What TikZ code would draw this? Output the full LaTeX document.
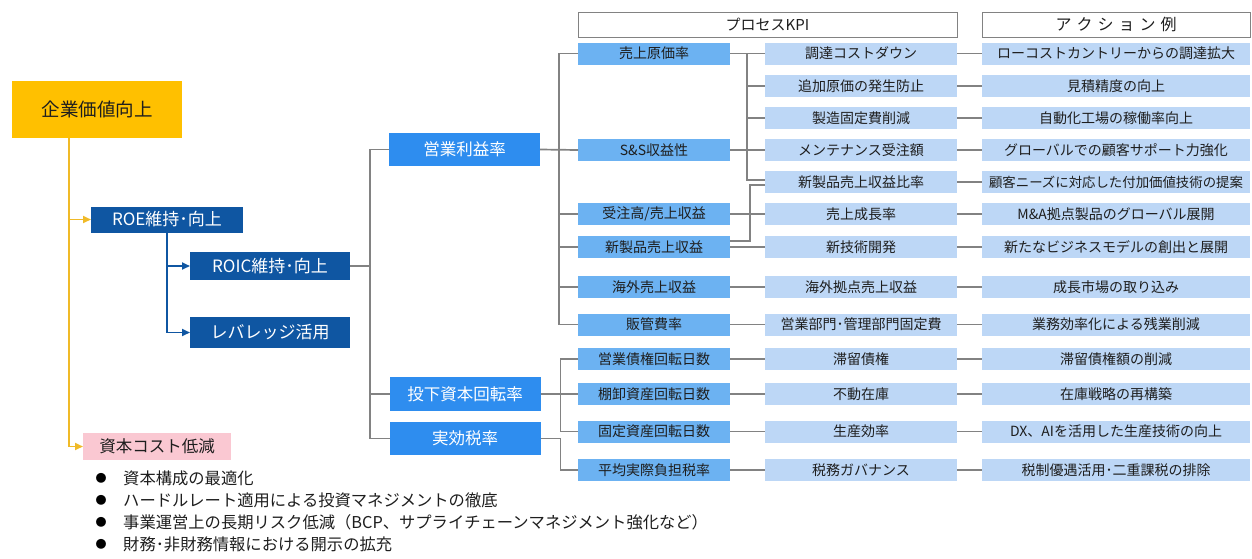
\documentclass[tikz,border=0pt]{standalone}
\usepackage{fontspec}
\setmainfont{Noto Sans CJK JP}
\usetikzlibrary{arrows.meta,calc}
\definecolor{orangeC}{RGB}{255,192,0}
\definecolor{navyC}{RGB}{15,86,162}
\definecolor{brightC}{RGB}{46,141,239}
\definecolor{midC}{RGB}{108,178,242}
\definecolor{lightC}{RGB}{189,215,246}
\definecolor{pinkC}{RGB}{250,200,210}
\definecolor{yelC}{RGB}{240,186,40}
\definecolor{grayC}{RGB}{130,130,130}
\definecolor{txtC}{RGB}{30,30,30}
\newcommand{\myfs}[1]{\fontsize{#1}{#1}\selectfont}
\newcommand{\hsp}{\hspace{5pt}}
\tikzset{
  bx/.style={inner sep=0pt, outer sep=0pt, align=center},
  topbox/.style={bx, fill=orangeC, text=txtC, minimum width=170pt, minimum height=57pt, font=\myfs{18.5}},
  navybox/.style={bx, fill=navyC, text=white, font=\myfs{17}},
  pinkbox/.style={bx, fill=pinkC, text=txtC, minimum width=148pt, minimum height=27pt, font=\myfs{16.5}},
  opbox/.style={bx, fill=brightC, text=white, minimum width=151pt, minimum height=33pt, font=\myfs{16.5}},
  ctwo/.style={bx, fill=midC, text=txtC, minimum width=152pt, minimum height=22pt, font=\myfs{14}},
  cthree/.style={bx, fill=lightC, text=txtC, minimum width=192pt, minimum height=22pt, font=\myfs{14}},
  cfour/.style={bx, fill=lightC, text=txtC, minimum width=268pt, minimum height=22pt, font=\myfs{14}},
  hdbox/.style={bx, draw=grayC, line width=1pt, fill=white, minimum height=25pt, font=\myfs{15}, text=txtC},
  gl/.style={draw=grayC, line width=1.7pt},
  yl/.style={draw=yelC, line width=1.7pt},
  bl/.style={draw=navyC, line width=1.7pt},
  tip/.style={-{Triangle[length=8pt,width=7pt]}},
  bulletsym/.style={inner sep=0pt, font=\myfs{11}, text=black},
  bullettxt/.style={inner sep=0pt, anchor=west, font=\myfs{16.3}, text=txtC}
}
\begin{document}
\begin{tikzpicture}[x=1pt,y=-1pt]
\useasboundingbox (0,0) rectangle (1252,558);

% headers
\node[hdbox, minimum width=379pt] (h1) at (767.5,24.5) {プロセスKPI};
\node[hdbox, minimum width=268pt, font=\myfs{16}] (h2) at (1116,24.5) {ア\hsp ク\hsp シ\hsp ョ\hsp ン\hsp 例};

% left tree
\node[topbox] (org) at (97,109.5) {企業価値向上};
\node[navybox, minimum width=152pt, minimum height=26pt] (roe) at (167,219.5) {ROE維持･向上};
\node[navybox, minimum width=160pt, minimum height=28pt] (roic) at (270,266) {ROIC維持･向上};
\node[navybox, minimum width=160pt, minimum height=31pt] (lev) at (270,332.5) {レバレッジ活用};
\node[pinkbox] (pink) at (157,446.5) {資本コスト低減};

% level 1
\node[opbox] (op) at (464.5,149.5) {営業利益率};
\node[opbox, minimum height=34pt] (inv) at (465,394) {投下資本回転率};
\node[opbox] (tax) at (465,438.5) {実効税率};

% column 2
\node[ctwo] (c21) at (654,53.5) {売上原価率};
\node[ctwo] (c22) at (654,150) {S\&S収益性};
\node[ctwo] (c23) at (654,214) {受注高/売上収益};
\node[ctwo] (c24) at (654,247) {新製品売上収益};
\node[ctwo] (c25) at (654,287) {海外売上収益};
\node[ctwo] (c26) at (654,324.5) {販管費率};
\node[ctwo] (c27) at (654,359) {営業債権回転日数};
\node[ctwo] (c28) at (654,394) {棚卸資産回転日数};
\node[ctwo] (c29) at (654,431.5) {固定資産回転日数};
\node[ctwo] (c210) at (654,470) {平均実際負担税率};

% column 3
\node[cthree] (k1) at (861,53.5) {調達コストダウン};
\node[cthree] (k2) at (861,86) {追加原価の発生防止};
\node[cthree] (k3) at (861,118) {製造固定費削減};
\node[cthree] (k4) at (861,150) {メンテナンス受注額};
\node[cthree] (k5) at (861,182) {新製品売上収益比率};
\node[cthree] (k6) at (861,214) {売上成長率};
\node[cthree] (k7) at (861,247) {新技術開発};
\node[cthree] (k8) at (861,287) {海外拠点売上収益};
\node[cthree] (k9) at (861,324.5) {営業部門･管理部門固定費};
\node[cthree] (k10) at (861,359) {滞留債権};
\node[cthree] (k11) at (861,394) {不動在庫};
\node[cthree] (k12) at (861,431.5) {生産効率};
\node[cthree] (k13) at (861,470) {税務ガバナンス};

% column 4
\node[cfour] (a1) at (1116,53.5) {ローコストカントリーからの調達拡大};
\node[cfour] (a2) at (1116,86) {見積精度の向上};
\node[cfour] (a3) at (1116,118) {自動化工場の稼働率向上};
\node[cfour] (a4) at (1116,150) {グローバルでの顧客サポート力強化};
\node[cfour, font=\myfs{13.4}] (a5) at (1116,182) {顧客ニーズに対応した付加価値技術の提案};
\node[cfour] (a6) at (1116,214) {M\&A拠点製品のグローバル展開};
\node[cfour] (a7) at (1116,247) {新たなビジネスモデルの創出と展開};
\node[cfour] (a8) at (1116,287) {成長市場の取り込み};
\node[cfour] (a9) at (1116,324.5) {業務効率化による残業削減};
\node[cfour] (a10) at (1116,359) {滞留債権額の削減};
\node[cfour] (a11) at (1116,394) {在庫戦略の再構築};
\node[cfour] (a12) at (1116,431.5) {DX、AIを活用した生産技術の向上};
\node[cfour] (a13) at (1116,470) {税制優遇活用･二重課税の排除};

% bullets
\node[bulletsym] (b1) at (101,478) {●};
\node[bulletsym] (b2) at (101,500) {●};
\node[bulletsym] (b3) at (101,522) {●};
\node[bulletsym] (b4) at (101,544) {●};
\node[bullettxt] (t1) at (123,478) {資本構成の最適化};
\node[bullettxt] (t2) at (123,500) {ハードルレート適用による投資マネジメントの徹底};
\node[bullettxt] (t3) at (123,522) {事業運営上の長期リスク低減（BCP、サプライチェーンマネジメント強化など）};
\node[bullettxt] (t4) at (123,544) {財務･非財務情報における開示の拡充};

% yellow connectors
\coordinate (yj) at ([xshift=-28pt]org.south);
\draw[yl, tip, color=yelC] (yj) |- (pink.west);
\draw[yl, tip, color=yelC] (yj |- roe.west) -- (roe.west);

% navy connectors
\draw[bl, tip, color=navyC] (roe.south) |- (lev.west);
\draw[bl, tip, color=navyC] (roe.south |- roic.west) -- (roic.west);

% gray: ROIC to level 1
\coordinate (g1) at ([xshift=-19pt]op.west);
\draw[gl] (roic.east) -- (roic.east -| g1);
\draw[gl] (op.west) -- (g1) |- (tax.west);
\draw[gl] (g1 |- inv.west) -- (inv.west);

% gray: level 1 to column 2
\coordinate (g2) at ([xshift=19pt]op.east);
\draw[gl] (op.east) -- (c22.west);
\draw[gl] (c21.west) -| (g2 |- c26.west) -- (c26.west);
\draw[gl] (g2 |- c23.west) -- (c23.west);
\draw[gl] (g2 |- c24.west) -- (c24.west);
\draw[gl] (g2 |- c25.west) -- (c25.west);
\coordinate (g3) at ([xshift=20pt]inv.east);
\draw[gl] (inv.east) -- (c28.west);
\draw[gl] (c27.west) -| (g3) |- (c29.west);
\draw[gl] (tax.east) -- ([xshift=20pt]tax.east) |- (c210.west);

% gray: column 2 to column 3
\coordinate (v1) at ([xshift=17pt]c21.east);
\draw[gl] (c21.east) -- (k1.west);
\draw[gl] (v1) |- ([yshift=2pt]k5.west);
\draw[gl] (v1 |- k2.west) -- (k2.west);
\draw[gl] (v1 |- k3.west) -- (k3.west);
\draw[gl] (c22.east) -- (k4.west);
\draw[gl] ([yshift=6pt]c24.east) -- ++(20,0) |- ([yshift=-3pt]k5.west);
\draw[gl] (c23.east) -- (k6.west);
\draw[gl] (c24.east) -- (k7.west);
\draw[gl] (c25.east) -- (k8.west);
\draw[gl] (c26.east) -- (k9.west);
\draw[gl] (c27.east) -- (k10.west);
\draw[gl] (c28.east) -- (k11.west);
\draw[gl] (c29.east) -- (k12.west);
\draw[gl] (c210.east) -- (k13.west);

% gray: column 3 to column 4
\foreach \i in {1,...,13} {
  \draw[gl] (k\i.east) -- (a\i.west);
}
\end{tikzpicture}
\end{document}
